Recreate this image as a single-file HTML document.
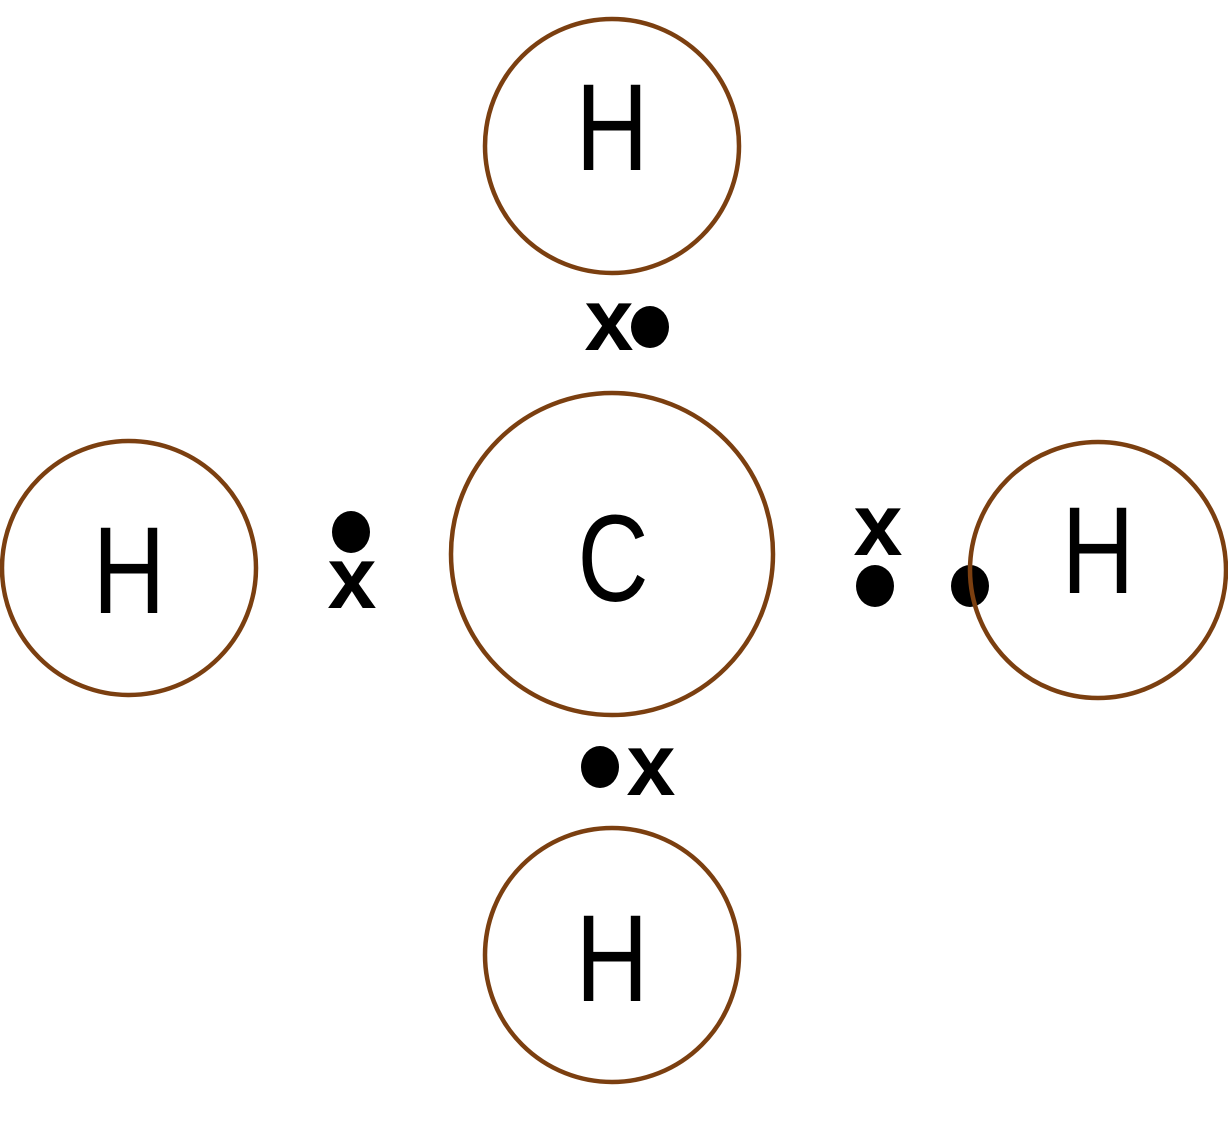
<!DOCTYPE html>
<html><head><style>html,body{margin:0;padding:0;background:#fff;}svg{display:block;}</style></head>
<body>
<svg width="1228" height="1121" viewBox="0 0 1228 1121" xmlns="http://www.w3.org/2000/svg">
<rect width="1228" height="1121" fill="#fff"/>
<g fill="#000">
<ellipse cx="650" cy="327" rx="19" ry="21"/>
<ellipse cx="351" cy="532" rx="19" ry="21"/>
<ellipse cx="875" cy="586" rx="19" ry="21"/>
<ellipse cx="970" cy="586" rx="19" ry="21"/>
<ellipse cx="600" cy="767" rx="19" ry="21"/>
</g>
<g fill="none" stroke="#7B3F10" stroke-width="4.5">
<circle cx="612" cy="146" r="127"/>
<circle cx="129" cy="568" r="127"/>
<circle cx="1098" cy="570" r="128"/>
<circle cx="612" cy="955" r="127"/>
<circle cx="612" cy="554" r="161"/>
</g>
<g font-family="Liberation Sans, sans-serif" font-weight="bold" font-size="88" text-anchor="middle" fill="#000">
<text x="609" y="350">x</text>
<text x="352" y="608">x</text>
<text x="878" y="555">x</text>
<text x="651" y="795">x</text>
</g>
<g font-family="Liberation Sans, sans-serif" font-size="123" text-anchor="middle" fill="#000">
<text transform="translate(612,170) scale(0.82,1)">H</text>
<text transform="translate(129,613) scale(0.82,1)">H</text>
<text transform="translate(1098,593) scale(0.82,1)">H</text>
<text transform="translate(612,1001) scale(0.82,1)">H</text>
<text transform="translate(613,601) scale(0.8,1)">C</text>
</g>
</svg>
</body></html>
